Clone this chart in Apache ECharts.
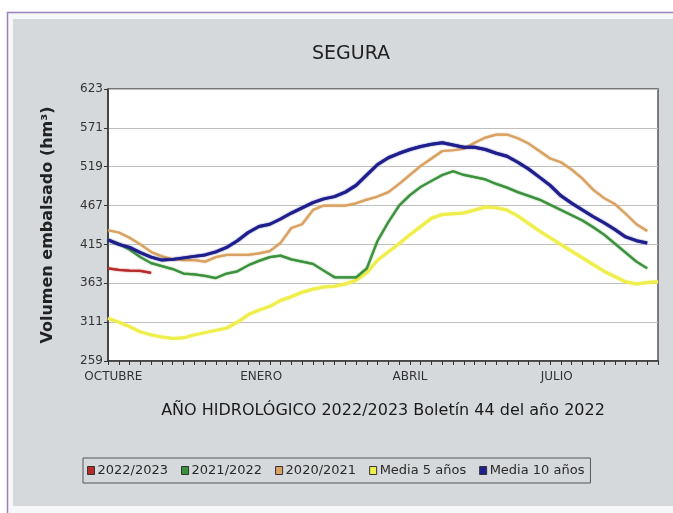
<!DOCTYPE html>
<html>
<head>
<meta charset="utf-8">
<script src="https://cdn.jsdelivr.net/npm/echarts@6/dist/echarts.min.js"></script>
<style>
html,body{margin:0;padding:0;background:#ffffff;}
#chart{width:673px;height:513px;}
</style>
</head>
<body>
<div id="chart"></div>
<script>
// Weeks of the hydrological year (index 0 = start of October)
const weeks = Array.from({length: 52}, (_, i) => i);
const tickLabels = ['OCTUBRE', 'ENERO', 'ABRIL', 'JULIO'];
const tickLabelWeeks = [0.5, 14.2, 28, 41.6];

const seriesNames = ['2022/2023', '2021/2022', '2020/2021', 'Media 5 años', 'Media 10 años'];

const s2022_2023 = [383, 381, 380, 379.5, 377];

const s2021_2022 = [421, 416, 408, 398, 390, 386, 382, 376, 375, 373, 370, 376, 379, 387, 393, 398, 400, 395, 392, 389,
  380, 371, 371, 371, 383, 420, 445, 467, 481, 492, 500, 508, 513, 508, 505, 502, 496, 491, 485, 480,
  475, 468, 461, 454, 447, 438, 428, 416, 404, 392, 383];

const s2020_2021 = [434, 431, 424, 415, 405, 399, 395, 394, 394, 392, 398, 401, 401, 401, 403, 406, 417, 437, 442, 461,
  467, 467, 467, 470, 475, 479, 485, 496, 508, 520, 530, 540, 541, 543, 551, 558, 562, 562, 557, 550,
  540, 530, 525, 515, 503, 488, 477, 469, 456, 442, 433];

const media5 = [316, 311, 305, 298, 294, 291, 289, 290, 294, 297, 300, 303, 311, 321, 327, 332, 340, 345, 351, 355,
  358, 359, 362, 367, 377, 394, 405, 416, 428, 439, 450, 455, 456, 457, 461, 465, 464, 461, 453, 443,
  433, 424, 415, 406, 397, 388, 379, 372, 365, 362, 364, 365];

const media10 = [421, 415, 411, 404, 398, 394, 395, 397, 399, 401, 405, 411, 420, 431, 439, 442, 449, 457, 464, 471,
  476, 479, 485, 494, 508, 522, 531, 537, 542, 546, 549, 551, 548, 545, 545, 542, 537, 533, 525, 516,
  505, 494, 480, 470, 461, 452, 444, 435, 425, 420, 417];

const colors = ['#b82a2a', '#3c913c', '#d9a262', '#eeee4c', '#1e1e8c'];
const widths = [2.2, 2.2, 2.2, 3, 3];
const allData = [s2022_2023, s2021_2022, s2020_2021, media5, media10];

const chart = echarts.init(document.getElementById('chart'), null, {renderer: 'canvas'});

const series = allData.map((arr, k) => ({
  name: seriesNames[k],
  type: 'line',
  data: arr.map((v, i) => [weeks[i], v]),
  showSymbol: false,
  symbol: 'none',
  smooth: false,
  z: k === 4 ? 6 : 5 - k,
  itemStyle: {color: colors[k]},
  lineStyle: {color: colors[k], width: widths[k], shadowColor: colors[k], shadowBlur: 1.5},
  animation: false
}));

const option = {
  animation: false,
  backgroundColor: '#ffffff',
  graphic: [
    {type: 'rect', shape: {x: 7.5, y: 12.5, width: 700, height: 520}, style: {fill: '#f6f7f9', stroke: '#9b80c0', lineWidth: 1.5}, z: -10, silent: true},
    {type: 'rect', shape: {x: 13, y: 19, width: 700, height: 487}, style: {fill: '#d6d9dc'}, z: -9, silent: true}
  ],
  title: {
    text: 'SEGURA',
    left: 346, top: 40, textAlign: 'center',
    textStyle: {fontFamily: 'DejaVu Sans', fontSize: 19, fontWeight: 'normal', color: '#222'}
  },
  legend: {
    data: seriesNames,
    left: 83, top: 458,
    orient: 'horizontal',
    icon: 'rect',
    itemWidth: 7, itemHeight: 8,
    itemGap: 13,
    padding: [6, 6, 6, 4],
    borderColor: '#555', borderWidth: 1,
    backgroundColor: '#d6d9dc',
    itemStyle: {borderColor: '#333', borderWidth: 1},
    textStyle: {fontFamily: 'DejaVu Sans', fontSize: 13, color: '#2a2a2a', padding: [0, 0, 0, -2]}
  },
  grid: {
    left: 108, top: 89, width: 550, height: 272,
    show: true, backgroundColor: '#ffffff', borderColor: '#555', borderWidth: 1.5,
    containLabel: false
  },
  xAxis: {
    type: 'value',
    min: 0, max: 51,
    name: 'AÑO HIDROLÓGICO 2022/2023 Boletín 44 del año 2022',
    nameLocation: 'middle',
    nameGap: 42,
    nameTextStyle: {fontFamily: 'DejaVu Sans', fontSize: 16, color: '#1a1a1a'},
    axisLine: {show: true, lineStyle: {color: '#333', width: 1.5}},
    axisTick: {show: true, customValues: weeks, length: 4, inside: false, lineStyle: {color: '#333'}},
    axisLabel: {
      customValues: tickLabelWeeks,
      formatter: v => tickLabels[tickLabelWeeks.indexOf(v)] || '',
      fontFamily: 'DejaVu Sans', fontSize: 12, color: '#333', margin: 10
    },
    splitLine: {show: false}
  },
  yAxis: {
    type: 'value',
    min: 259, max: 623, interval: 52,
    name: 'Volumen embalsado (hm³)',
    nameLocation: 'middle',
    nameGap: 52,
    nameRotate: 90,
    nameTextStyle: {fontFamily: 'DejaVu Sans', fontSize: 16, fontWeight: 'bold', color: '#222'},
    axisLine: {show: true, lineStyle: {color: '#333', width: 1.5}},
    axisTick: {show: true, length: 4, lineStyle: {color: '#333'}},
    axisLabel: {fontFamily: 'DejaVu Sans', fontSize: 12, color: '#333', margin: 5},
    splitLine: {show: true, lineStyle: {color: '#bfbfbf', width: 1.2}}
  },
  series: series
};

chart.setOption(option);
</script>
</body>
</html>
